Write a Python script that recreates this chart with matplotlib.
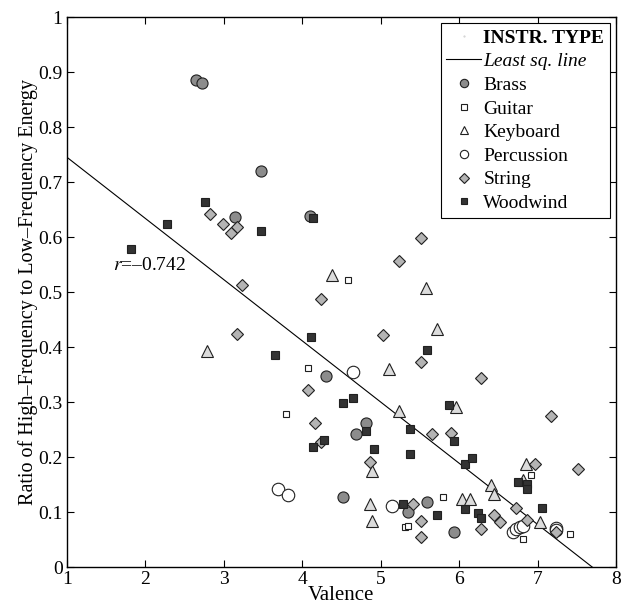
import numpy as np
import matplotlib.pyplot as plt
from matplotlib.lines import Line2D

plt.rcParams['font.family'] = ['Liberation Serif', 'DejaVu Serif']
plt.rcParams['mathtext.fontset'] = 'stix'

# Valence / ratio values, per instrument type
brass_x = [2.65, 2.72, 3.48, 3.14, 4.10, 4.31, 4.69, 4.82, 4.52, 5.35, 5.59, 5.93]
brass_y = [0.886, 0.881, 0.720, 0.637, 0.638, 0.348, 0.242, 0.262, 0.127, 0.100, 0.119, 0.065]

guitar_x = [4.58, 4.07, 3.79, 5.79, 5.31, 5.35, 6.92, 6.82, 7.41]
guitar_y = [0.522, 0.363, 0.279, 0.127, 0.074, 0.076, 0.168, 0.051, 0.060]

keyboard_x = [4.38, 5.58, 2.79, 5.72, 5.11, 5.24, 5.96, 4.89, 6.85, 6.82, 6.41, 6.44,
              4.86, 6.04, 6.14, 4.89, 7.03]
keyboard_y = [0.531, 0.508, 0.394, 0.433, 0.361, 0.285, 0.291, 0.176, 0.187, 0.158, 0.149, 0.134,
              0.116, 0.125, 0.125, 0.084, 0.083]

perc_x = [4.65, 3.69, 3.82, 5.14, 6.69, 6.73, 6.78, 6.82, 7.24, 7.24]
perc_y = [0.356, 0.142, 0.131, 0.112, 0.064, 0.069, 0.074, 0.076, 0.071, 0.068]

string_x = [2.83, 2.99, 3.17, 3.10, 3.24, 5.51, 5.24, 4.24, 3.17, 5.03, 5.51, 6.28,
            4.07, 4.17, 4.24, 7.17, 5.65, 5.90, 4.86, 6.97, 7.51, 5.41, 6.44, 6.52,
            6.72, 6.86, 5.51, 6.28, 5.51, 7.24]
string_y = [0.643, 0.625, 0.619, 0.607, 0.513, 0.599, 0.557, 0.487, 0.424, 0.422, 0.374, 0.345,
            0.322, 0.262, 0.227, 0.276, 0.243, 0.245, 0.191, 0.187, 0.179, 0.115, 0.095, 0.082,
            0.107, 0.086, 0.084, 0.070, 0.056, 0.065]

wood_x = [2.76, 2.28, 1.82, 3.48, 4.14, 4.11, 3.65, 4.52, 4.65, 4.14, 4.28, 5.59,
          5.87, 5.38, 4.82, 4.92, 5.38, 5.93, 6.07, 6.17, 6.75, 6.86, 6.86, 5.28,
          6.07, 6.24, 6.28, 5.72, 7.06]
wood_y = [0.665, 0.624, 0.579, 0.611, 0.635, 0.419, 0.386, 0.299, 0.307, 0.219, 0.232, 0.395,
          0.296, 0.252, 0.248, 0.216, 0.206, 0.230, 0.187, 0.199, 0.156, 0.151, 0.143, 0.116,
          0.106, 0.099, 0.090, 0.096, 0.108]

fig = plt.figure(figsize=(6.26, 6.12), dpi=100)
ax = fig.add_axes([0.1065, 0.073, 0.8775, 0.8987])

# least squares line over all points
all_x = np.array(brass_x + guitar_x + keyboard_x + perc_x + string_x + wood_x)
all_y = np.array(brass_y + guitar_y + keyboard_y + perc_y + string_y + wood_y)
slope, intercept = np.polyfit(all_x, all_y, 1)
xs = np.array([1, 8])
ax.plot(xs, slope * xs + intercept, color='black', lw=0.8, zorder=1)

ec = '#202020'
ax.plot(brass_x, brass_y, 'o', ms=8, mfc='#8c8c8c', mec=ec, mew=0.8, ls='none')
ax.plot(guitar_x, guitar_y, 's', ms=5, mfc='white', mec=ec, mew=0.8, ls='none')
ax.plot(keyboard_x, keyboard_y, '^', ms=9, mfc='#dcdcdc', mec=ec, mew=0.8, ls='none')
ax.plot(perc_x, perc_y, 'o', ms=9, mfc='white', mec=ec, mew=0.8, ls='none')
ax.plot(string_x, string_y, 'D', ms=6.5, mfc='#b4b4b4', mec=ec, mew=0.8, ls='none')
ax.plot(wood_x, wood_y, 's', ms=6, mfc='#333333', mec=ec, mew=0.8, ls='none')

ax.text(1.59, 0.549, r'$r$=–0.742', fontsize=14, va='center', ha='left')

ax.set_xlim(1, 8)
ax.set_ylim(0, 1)
ax.set_xticks(range(1, 9))
ax.set_yticks(np.arange(0, 1.01, 0.1))
ax.set_yticklabels(['0', '0.1', '0.2', '0.3', '0.4', '0.5', '0.6', '0.7', '0.8', '0.9', '1'])
ax.tick_params(direction='in', top=True, right=True, labelsize=14, length=5, width=0.8, pad=3)
for s in ax.spines.values():
    s.set_linewidth(1.0)

ax.set_xlabel('Valence', fontsize=15, labelpad=-2)
ax.set_ylabel('Ratio of High–Frequency to Low–Frequency Energy', fontsize=14.5, labelpad=0)

handles = [
    Line2D([], [], marker='.', ms=1, color='#cccccc', ls='none'),
    Line2D([], [], color='black', lw=0.8),
    Line2D([], [], marker='o', ms=6, mfc='#8c8c8c', mec=ec, mew=0.8, ls='none'),
    Line2D([], [], marker='s', ms=4, mfc='white', mec=ec, mew=0.8, ls='none'),
    Line2D([], [], marker='^', ms=6, mfc='white', mec=ec, mew=0.8, ls='none'),
    Line2D([], [], marker='o', ms=6, mfc='white', mec=ec, mew=0.8, ls='none'),
    Line2D([], [], marker='D', ms=5, mfc='#b4b4b4', mec=ec, mew=0.8, ls='none'),
    Line2D([], [], marker='s', ms=4, mfc='#333333', mec=ec, mew=0.8, ls='none'),
]
labels = ['INSTR. TYPE', 'Least sq. line', 'Brass', 'Guitar', 'Keyboard',
          'Percussion', 'String', 'Woodwind']
leg = ax.legend(handles, labels, loc='upper right', fontsize=14, frameon=True,
                fancybox=False, edgecolor='black', framealpha=1,
                handlelength=1.75, handletextpad=0.15, labelspacing=0.31,
                borderpad=0.3, borderaxespad=0.3)
leg.get_frame().set_linewidth(0.8)
leg.get_texts()[0].set_fontweight('bold')
leg.get_texts()[1].set_fontstyle('italic')

fig.savefig('out.png', dpi=100)
